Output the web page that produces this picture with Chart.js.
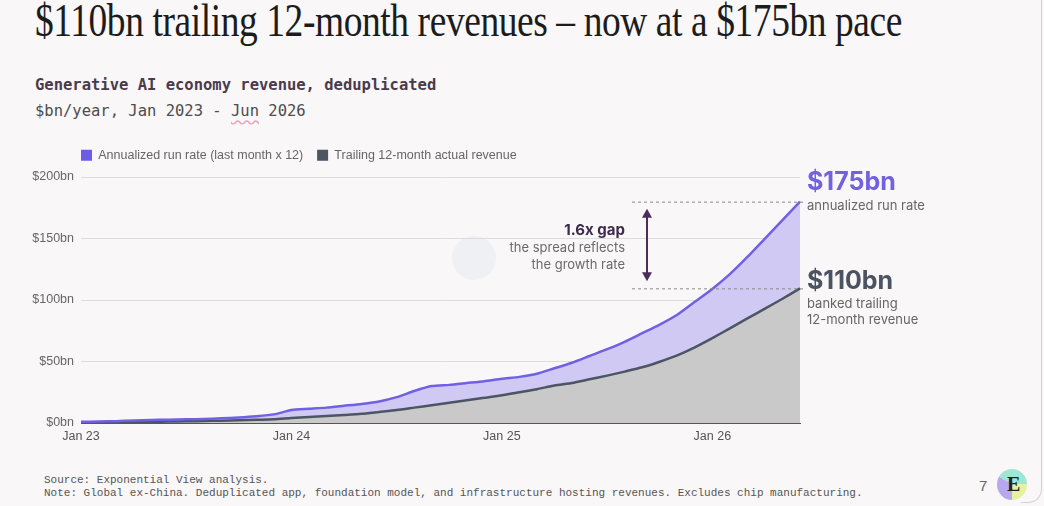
<!DOCTYPE html>
<html>
<head>
<meta charset="utf-8">
<script src="https://cdn.jsdelivr.net/npm/chart.js@4.4.1/dist/chart.umd.min.js"></script>
<style>
  html, body { margin: 0; padding: 0; }
  body { width: 1044px; height: 506px; background: #f9f7f8; position: relative; overflow: hidden; font-family: "Liberation Sans", Arial, sans-serif; }
  #title { position: absolute; left: 35px; top: -6px; font-family: "Liberation Serif", serif; font-size: 46px; color: #1c1c1c; white-space: nowrap; transform-origin: 0 0; letter-spacing: -0.5px; }
  .mono { position: absolute; left: 35px; font-family: "DejaVu Sans Mono", monospace; font-size: 15.5px; white-space: nowrap; }
  #sub1 { top: 76px; font-weight: bold; color: #4a3b4c; }
  #sub2 { top: 102px; color: #4d4d4d; }
  .wavy { text-decoration: underline wavy #e3a6b8; text-underline-offset: 3px; }
  #wrap { position: absolute; left: 0; top: 149px; width: 1044px; height: 298px; }
  .foot { position: absolute; left: 44px; font-family: "Liberation Mono", monospace; font-size: 11px; color: #555; white-space: nowrap; }
  #page { position: absolute; left: 979px; top: 477px; font-size: 15px; color: #666; }
  #logo { position: absolute; left: 997px; top: 469px; width: 30px; height: 31px; border-radius: 50%; background: conic-gradient(#9fe6d5 0deg 90deg, #e7f0a0 90deg 180deg, #b9a7ef 180deg 300deg, #9fe6d5 300deg); }
  #logo span { position: absolute; left: 10px; top: 4px; font: bold 20px "Liberation Serif", serif; color: #222; }
  #mark { position: absolute; left: 452px; top: 236px; width: 44px; height: 44px; border-radius: 50%; background: rgba(200, 215, 225, 0.2); }
  #frame { position: absolute; right: 2px; top: 0; width: 20px; bottom: 3px; border-right: 1px solid #d4d0d4; border-bottom: 1px solid #d4d0d4; border-bottom-right-radius: 14px; }
</style>
</head>
<body>
<div id="frame"></div>
<div id="title">$110bn trailing 12-month revenues – now at a $175bn pace</div>
<div class="mono" id="sub1">Generative AI economy revenue, deduplicated</div>
<div class="mono" id="sub2">$bn/year, Jan 2023 - <span class="wavy">Jun</span> 2026</div>
<div id="mark"></div>
<div id="wrap"><canvas id="chart" width="1044" height="298"></canvas></div>
<div class="foot" style="top:474px">Source: Exponential View analysis.</div>
<div class="foot" style="top:487px">Note: Global ex-China. Deduplicated app, foundation model, and infrastructure hosting revenues. Excludes chip manufacturing.</div>
<div id="page">7</div>
<div id="logo"><span>E</span></div>
<script>
// monthly points, Jan 2023 .. Jun 2026
const monthNames = ['Jan','Feb','Mar','Apr','May','Jun','Jul','Aug','Sep','Oct','Nov','Dec'];
const months = [];
for (let i = 0; i < 42; i++) {
  months.push(monthNames[i % 12] + ' ' + (23 + Math.floor(i / 12)));
}

const runRate = [1, 1.2, 1.5, 2, 2.4, 2.7, 3, 3.3, 3.8, 4.5, 5.5, 7,
  10.5, 11.5, 12.5, 14, 15.5, 17.5, 21, 26, 30, 31, 32.5, 34,
  36, 37.5, 40, 44.5, 49, 54.5, 60, 66, 73, 80, 88, 98.5,
  109, 121, 135, 150, 165, 180];
const trailing = [0.5, 0.6, 0.7, 0.8, 1, 1.2, 1.4, 1.6, 1.9, 2.2, 2.6, 3,
  4, 4.8, 5.6, 6.5, 7.5, 9, 10.5, 12.5, 14.5, 16.5, 18.5, 20.5,
  22.5, 25, 27.5, 30.5, 32.5, 35.5, 38.5, 41.8, 45.3, 49.8, 55, 61.5,
  69, 77, 85, 93, 101, 109.5];
const yTicks = [0, 50, 100, 150, 200];

// title fit
const t = document.getElementById('title');
t.style.transform = 'scaleX(' + (867 / t.getBoundingClientRect().width) + ')';

const notes = {
  id: 'notes',
  afterDraw(chart) {
    const ctx = chart.ctx, x = chart.scales.x, y = chart.scales.y;
    const right = x.getPixelForValue(months.length - 1);
    const yTop = y.getPixelForValue(runRate[runRate.length - 1]);
    const yBot = y.getPixelForValue(trailing[trailing.length - 1]);
    ctx.save();
    // dashed guides
    ctx.strokeStyle = '#8a8a8a';
    ctx.lineWidth = 1;
    ctx.setLineDash([3, 3]);
    for (const yy of [yTop, yBot]) {
      ctx.beginPath(); ctx.moveTo(right - 168, yy + 0.5); ctx.lineTo(right + 6, yy + 0.5); ctx.stroke();
    }
    ctx.setLineDash([]);
    // gap arrow
    const ax = right - 153;
    ctx.strokeStyle = '#4a2d5a'; ctx.fillStyle = '#4a2d5a'; ctx.lineWidth = 2;
    ctx.beginPath(); ctx.moveTo(ax, yTop + 12); ctx.lineTo(ax, yBot - 12); ctx.stroke();
    ctx.beginPath(); ctx.moveTo(ax, yTop + 7); ctx.lineTo(ax - 5, yTop + 16); ctx.lineTo(ax + 5, yTop + 16); ctx.closePath(); ctx.fill();
    ctx.beginPath(); ctx.moveTo(ax, yBot - 7); ctx.lineTo(ax - 5, yBot - 16); ctx.lineTo(ax + 5, yBot - 16); ctx.closePath(); ctx.fill();
    // gap text
    const mid = (yTop + yBot) / 2;
    ctx.textAlign = 'right'; ctx.textBaseline = 'middle';
    ctx.fillStyle = '#3d2a4d'; ctx.font = 'bold 15px Inter, sans-serif';
    ctx.fillText('1.6x gap', right - 175, mid - 14);
    ctx.fillStyle = '#6a6a6a'; ctx.font = '13px Inter, sans-serif';
    ctx.fillText('the spread reflects', right - 175, mid + 3);
    ctx.fillText('the growth rate', right - 175, mid + 20);
    // end labels
    ctx.textAlign = 'left';
    const lx = right + 7;
    ctx.fillStyle = '#7262de'; ctx.font = 'bold 25px Inter, sans-serif';
    ctx.fillText('$175bn', lx, yTop - 19);
    ctx.fillStyle = '#666'; ctx.font = '13px Inter, sans-serif';
    ctx.fillText('annualized run rate', lx, yTop + 4);
    ctx.fillStyle = '#4b5260'; ctx.font = 'bold 25px Inter, sans-serif';
    ctx.fillText('$110bn', lx, yBot - 7);
    ctx.fillStyle = '#666'; ctx.font = '13px Inter, sans-serif';
    ctx.fillText('banked trailing', lx, yBot + 16);
    ctx.fillText('12-month revenue', lx, yBot + 32);
    ctx.restore();
  }
};

new Chart(document.getElementById('chart').getContext('2d'), {
  type: 'line',
  data: {
    labels: months,
    datasets: [{
      label: 'Annualized run rate (last month x 12)    ',
      data: runRate,
      borderColor: '#7060e4',
      backgroundColor: '#d0c9f4',
      fill: '+1',
      borderWidth: 2.5,
      pointRadius: 0,
      tension: 0.2
    }, {
      label: 'Trailing 12-month actual revenue',
      data: trailing,
      borderColor: '#4b5563',
      backgroundColor: '#c9c9ca',
      fill: 'origin',
      borderWidth: 2.5,
      pointRadius: 0,
      tension: 0.2
    }]
  },
  options: {
    responsive: false,
    animation: false,
    layout: { padding: { left: 0, right: 244, top: 0, bottom: 0 } },
    plugins: {
      filler: { drawTime: 'beforeDatasetsDraw' },
      legend: {
        display: true, position: 'top', align: 'start', fullSize: false,
        labels: {
          boxWidth: 11, boxHeight: 11, padding: 0,
          color: '#666', font: { family: 'Liberation Sans', size: 12.5 },
          generateLabels(chart) {
            return chart.data.datasets.map((d, i) => ({
              text: d.label, fillStyle: i === 0 ? '#6c5ce7' : '#4b5563',
              strokeStyle: 'transparent', lineWidth: 0, datasetIndex: i, fontColor: '#666'
            }));
          }
        }
      },
      tooltip: { enabled: false }
    },
    scales: {
      x: {
        offset: false,
        grid: { display: false, drawTicks: false },
        border: { color: '#555', width: 1 },
        afterFit(s) { s.height = 24; },
        ticks: {
          autoSkip: false, maxRotation: 0, padding: 6,
          color: '#555', font: { family: 'Liberation Sans', size: 12.5 },
          callback(v, i) { return i % 12 === 0 ? months[i] : ''; }
        }
      },
      y: {
        min: 0, max: 204.5,
        afterFit(s) { s.width = 81; },
        afterBuildTicks(s) { s.ticks = yTicks.map(v => ({ value: v })); },
        grid: { color: '#dcdcdc', drawTicks: false },
        border: { display: false },
        ticks: {
          padding: 7, color: '#666', font: { family: 'Liberation Sans', size: 12.5 },
          callback: v => '$' + v + 'bn'
        }
      }
    }
  },
  plugins: [notes]
});
</script>
</body>
</html>
